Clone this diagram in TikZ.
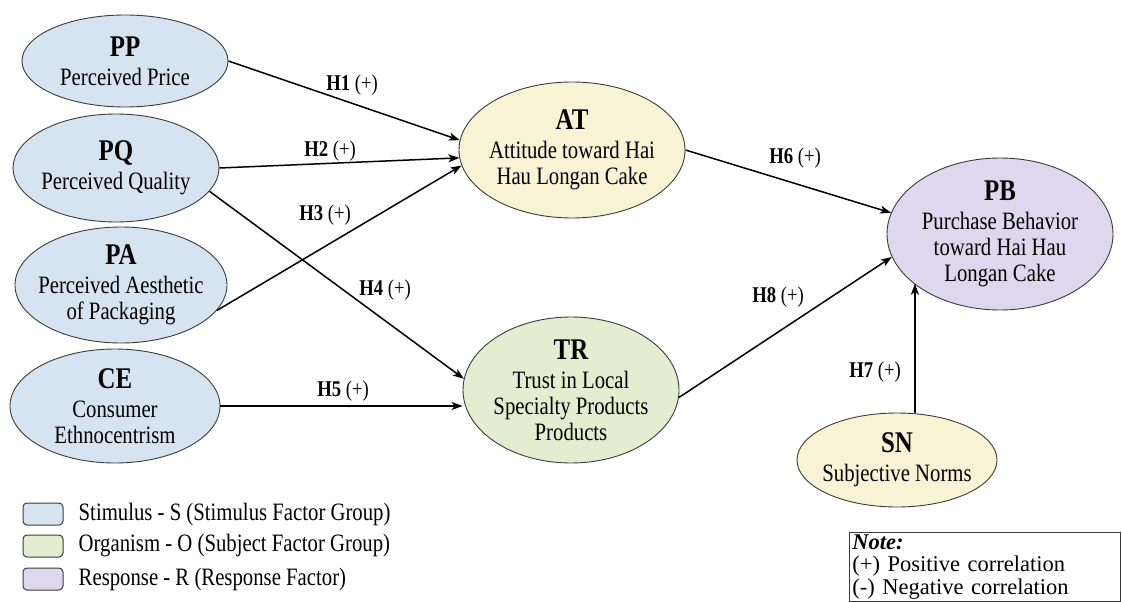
\documentclass[tikz,border=0pt]{standalone}
\usepackage{fontspec}
\setmainfont{Liberation Serif}[FakeStretch=0.83]
\newfontfamily\notefont{Liberation Serif}
\usetikzlibrary{arrows.meta,shapes.geometric}
\definecolor{stimfill}{RGB}{214,228,241}
\definecolor{atfill}{RGB}{248,243,212}
\definecolor{orgfill}{RGB}{227,237,208}
\definecolor{resfill}{RGB}{222,215,237}
\definecolor{edgegray}{RGB}{60,60,60}
\newcommand\hdrtxt[1]{{\fontsize{30}{30}\selectfont\bfseries #1}}
\begin{document}
\begin{tikzpicture}[x=1pt,y=-1pt,
 ell/.style={ellipse, draw=edgegray, line width=0.9pt, inner sep=0pt},
 txt/.style={align=center, inner sep=0pt, font=\fontsize{25}{26}\selectfont},
 lbl/.style={inner sep=0pt, font=\fontsize{22.5}{22.5}\selectfont},
 arr/.style={-{Stealth[length=11pt,width=8pt,inset=3pt]}, line width=1.5pt, black},
 legbox/.style={draw=edgegray, line width=1pt, rounded corners=4pt, minimum width=40pt, minimum height=22pt, inner sep=0pt},
 legtxt/.style={anchor=west, inner sep=0pt, font=\fontsize{25}{26}\selectfont},
 notebox/.style={draw=edgegray, line width=0.9pt, anchor=north west, minimum width=271pt, minimum height=69pt, text width=265pt, align=left, inner sep=2pt, font=\notefont\fontsize{22.5}{22.5}\selectfont}
]
\useasboundingbox (0,0) rectangle (1122,602);
\fill[white] (0,0) rectangle (1122,602);

% ellipses
\node[ell, fill=stimfill, minimum width=206pt, minimum height=92pt] (PP) at (125,61) {};
\node[txt] (PPt) at (PP) {\hdrtxt{PP}\\[3pt]Perceived Price};
\node[ell, fill=stimfill, minimum width=206pt, minimum height=108pt] (PQ) at (116,168) {};
\node[txt] (PQt) at (PQ) {\hdrtxt{PQ}\\[3pt]Perceived Quality};
\node[ell, fill=stimfill, minimum width=212pt, minimum height=116pt] (PA) at (121,285) {};
\node[txt] (PAt) at (PA) {\hdrtxt{PA}\\[3pt]Perceived Aesthetic\\of Packaging};
\node[ell, fill=stimfill, minimum width=210pt, minimum height=114pt] (CE) at (115,406) {};
\node[txt] (CEt) at (CE) {\hdrtxt{CE}\\[3pt]Consumer\\Ethnocentrism};

\node[ell, fill=atfill, minimum width=226pt, minimum height=136pt] (AT) at (572,150) {};
\node[txt] (ATt) at (AT) {\hdrtxt{AT}\\[3pt]Attitude toward Hai\\Hau Longan Cake};
\node[ell, fill=orgfill, minimum width=216pt, minimum height=146pt] (TR) at (571,390) {};
\node[txt] (TRt) at (TR) {\hdrtxt{TR}\\[3pt]Trust in Local\\Specialty Products\\Products};
\node[ell, fill=resfill, minimum width=226pt, minimum height=152pt] (PB) at (1000,234) {};
\node[txt] (PBt) at (PB) {\hdrtxt{PB}\\[3pt]Purchase Behavior\\toward Hai Hau\\Longan Cake};
\node[ell, fill=atfill, minimum width=200pt, minimum height=94pt] (SN) at (897,460) {};
\node[txt] (SNt) at (SN) {\hdrtxt{SN}\\[3pt]Subjective Norms};

% connectors
\draw[arr] (PP.east) -- (AT.175);
\draw[arr] (PQ.east) -- (AT.184);
\draw[arr] (PA.345) -- (AT.188);
\draw[arr] (PQ.346) -- (TR.174);
\draw[arr] (CE.east) -- (CE.east -| TR.west);
\draw[arr] (AT.east) -- (PB.169);
\draw[arr] (TR.356) -- (PB.192);
\draw[arr] (SN.69) -- (SN.69 |- PB.210);

% labels
\node[lbl] (h1) at (352,85) {\textbf{H1} (+)};
\node[lbl] (h2) at (330,151) {\textbf{H2} (+)};
\node[lbl] (h3) at (325,215) {\textbf{H3} (+)};
\node[lbl] (h4) at (385,290) {\textbf{H4} (+)};
\node[lbl] (h5) at (343,391) {\textbf{H5} (+)};
\node[lbl] (h6) at (795,158) {\textbf{H6} (+)};
\node[lbl] (h8) at (778,297) {\textbf{H8} (+)};
\node[lbl] (h7) at (875,372) {\textbf{H7} (+)};

% legend
\node[legbox, fill=stimfill] (L1) at (43,514) {};
\node[legtxt] (L1t) at ([xshift=15pt]L1.east) {Stimulus - S (Stimulus Factor Group)};
\node[legbox, fill=orgfill] (L2) at (43,546) {};
\node[legtxt] (L2t) at ([xshift=15pt]L2.east) {Organism - O (Subject Factor Group)};
\node[legbox, fill=resfill] (L3) at (43,579) {};
\node[legtxt] (L3t) at ([xshift=15pt]L3.east) {Response - R (Response Factor)};

% note
\node[notebox] (note) at (849,532) {\textbf{\textit{Note:}}\\(+) Positive correlation\\(-) Negative correlation};
\end{tikzpicture}
\end{document}
